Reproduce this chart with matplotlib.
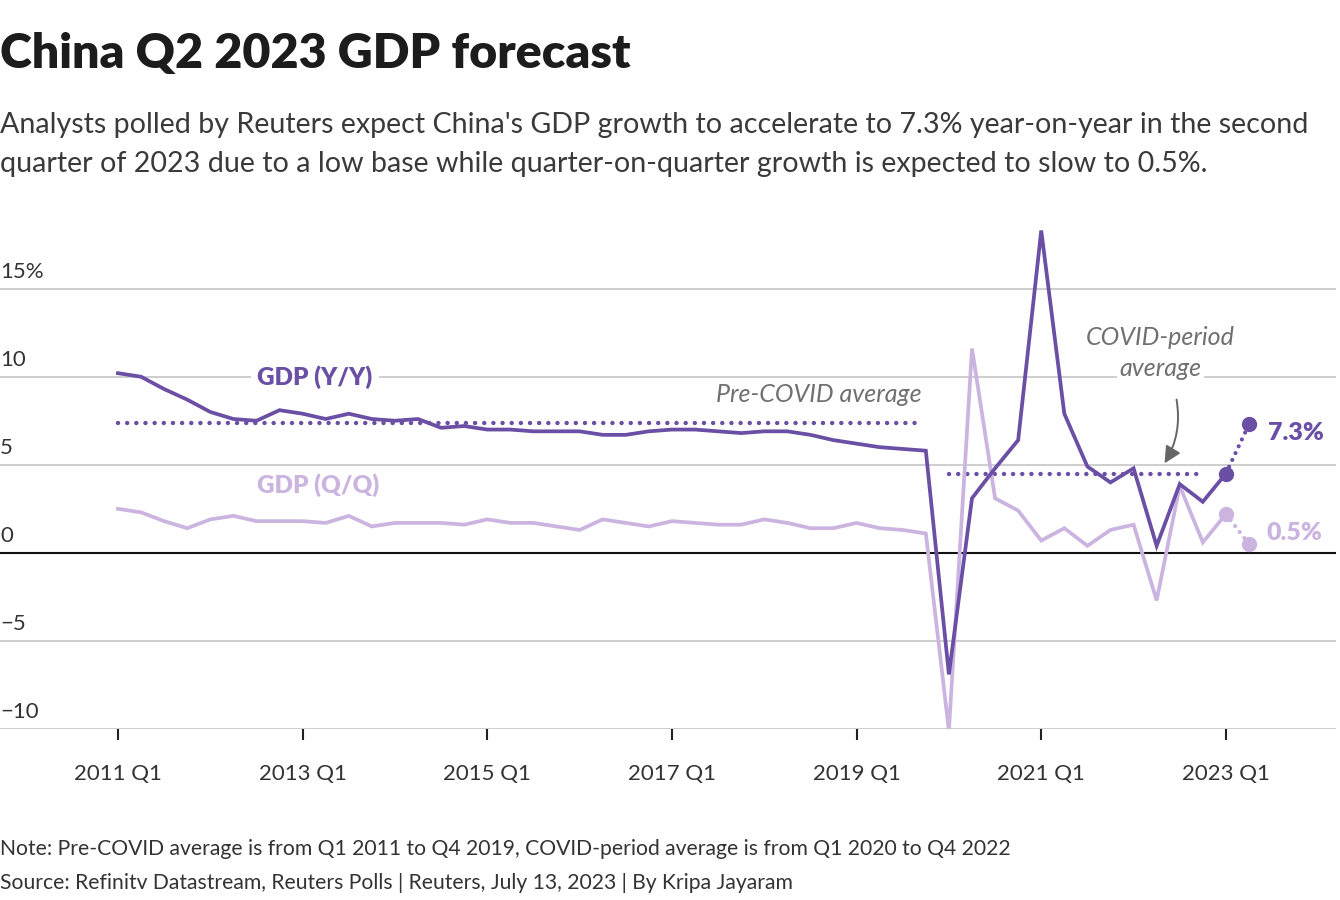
import numpy as np
import matplotlib.pyplot as plt

plt.rcParams['font.family'] = ['Lato', 'DejaVu Sans']

# quarterly data, 2011 Q1 .. 2023 Q1 (actual), plus 2023 Q2 poll forecast
years = list(range(2011, 2024))
yoy = [10.2, 10.0, 9.3, 8.7,
       8.0, 7.6, 7.5, 8.1,
       7.9, 7.6, 7.9, 7.6,
       7.5, 7.6, 7.1, 7.2,
       7.0, 7.0, 6.9, 6.9,
       6.9, 6.7, 6.7, 6.9,
       7.0, 7.0, 6.9, 6.8,
       6.9, 6.9, 6.7, 6.4,
       6.2, 6.0, 5.9, 5.8,
       -6.9, 3.1, 4.8, 6.4,
       18.3, 7.9, 4.9, 4.0,
       4.8, 0.4, 3.9, 2.9,
       4.5]
qoq = [2.5, 2.3, 1.8, 1.4,
       1.9, 2.1, 1.8, 1.8,
       1.8, 1.7, 2.1, 1.5,
       1.7, 1.7, 1.7, 1.6,
       1.9, 1.7, 1.7, 1.5,
       1.3, 1.9, 1.7, 1.5,
       1.8, 1.7, 1.6, 1.6,
       1.9, 1.7, 1.4, 1.4,
       1.7, 1.4, 1.3, 1.1,
       -10.1, 11.6, 3.1, 2.4,
       0.7, 1.4, 0.4, 1.3,
       1.6, -2.7, 3.8, 0.6,
       2.2]
yoy_fc = 7.3
qoq_fc = 0.5
pre_covid_avg = 7.4     # Q1 2011 - Q4 2019
covid_avg = 4.5         # Q1 2020 - Q4 2022

yticks = [15, 10, 5, 0, -5, -10]
ytick_labels = ['15%', '10', '5', '0', '\u22125', '\u221210']
xtick_years = [2011, 2013, 2015, 2017, 2019, 2021, 2023]

DARK = '#6a4fa5'
LIGHT = '#cbb5e0'
GRID = '#c6c6c6'
TXT = '#333333'
NOTE = '#707070'

W, H = 1340, 900
fig = plt.figure(figsize=(W / 100, H / 100), dpi=100)


def fx(px):
    return px / W


def fy(py):
    return 1 - py / H


ax = fig.add_axes([0, fy(729), fx(1336), fy(227) - fy(729)])

x = np.arange(len(yoy))
n = len(yoy)
ax.set_xlim(-5.11, 52.77)
ax.set_ylim(-10, 18.5)

for v in yticks:
    if v == 0:
        ax.axhline(0, color='#111111', lw=1.5, zorder=1)
    else:
        ax.axhline(v, color=GRID, lw=1.2, zorder=0)
for v, lab in zip(yticks, ytick_labels):
    ax.annotate(lab, xy=(0, v), xycoords=('axes fraction', 'data'),
                xytext=(0, 5), textcoords='offset points',
                ha='left', va='bottom', fontsize=16, color=TXT)

# averages
dots = dict(lw=3.2, linestyle=(0, (0.01, 2.05)), dash_capstyle='round', zorder=2)
ax.plot([0, 34.75], [pre_covid_avg] * 2, color=DARK, **dots)
ax.plot([36, 47], [covid_avg] * 2, color=DARK, **dots)

# series
ax.plot(x, qoq, color=LIGHT, lw=2.7, zorder=3, solid_joinstyle='miter')
ax.plot(x, yoy, color=DARK, lw=2.7, zorder=4, solid_joinstyle='miter')

# forecast segments
fc = dict(lw=3.0, linestyle=(0, (0.01, 1.8)), dash_capstyle='round')
ax.plot([n - 1, n], [qoq[-1], qoq_fc], color=LIGHT, zorder=3, **fc)
ax.plot([n - 1, n], [yoy[-1], yoy_fc], color=DARK, zorder=4, **fc)
ax.plot([n - 1, n], [qoq[-1], qoq_fc], 'o', color=LIGHT, ms=10, zorder=5)
ax.plot([n - 1, n], [yoy[-1], yoy_fc], 'o', color=DARK, ms=10, zorder=5)

ax.text(n + 0.83, 6.82, f'{yoy_fc}%', color=DARK, fontsize=18,
        fontweight='heavy', ha='left', va='center')
ax.text(n + 0.74, 1.14, f'{qoq_fc}%', color=LIGHT, fontsize=18,
        fontweight='heavy', ha='left', va='center')

# series labels
bb = dict(boxstyle='square,pad=0.25', fc='white', ec='none')
ax.text(8.53, 10.0, 'GDP (Y/Y)', color=DARK, fontsize=17.5, fontweight='heavy',
        ha='center', va='center', bbox=bb, zorder=1)
ax.text(8.66, 3.85, 'GDP (Q/Q)', color=LIGHT, fontsize=17.5, fontweight='heavy',
        ha='center', va='center', zorder=1)

ax.text(34.8, 8.98, 'Pre-COVID average', color=NOTE, fontsize=18,
        fontstyle='italic', ha='right', va='center')
ax.text(45.15, 12.2, 'COVID-period', color=NOTE, fontsize=18,
        fontstyle='italic', ha='center', va='center')
ax.text(45.15, 10.45, 'average', color=NOTE, fontsize=18,
        fontstyle='italic', ha='center', va='center',
        bbox=dict(boxstyle='square,pad=0.1', fc='white', ec='none'), zorder=1)
ax.annotate('', xy=(45.28, 4.95), xytext=(45.84, 8.86),
            arrowprops=dict(arrowstyle='-|>,head_length=1.0,head_width=0.5',
                            color='#666666', lw=1.4,
                            connectionstyle='arc3,rad=-0.2'))

# axes styling
for s in ax.spines.values():
    s.set_visible(False)
ax.set_yticks([])
ax.set_xticks([(y - 2011) * 4 for y in xtick_years])
ax.set_xticklabels([f'{y} Q1' for y in xtick_years], fontsize=16, color=TXT)
ax.tick_params(axis='x', length=8, width=1.5, color='#222222', pad=17)

# titles and notes
fig.text(0, fy(68), 'China Q2 2023 GDP forecast', fontsize=34.8,
         fontweight='heavy', color='#1c1c1c', va='baseline', ha='left')
fig.text(0, fy(133), "Analysts polled by Reuters expect China's GDP growth to "
         "accelerate to 7.3% year-on-year in the second",
         fontsize=20.6, color='#3a3a3a', va='baseline', ha='left')
fig.text(0, fy(172), 'quarter of 2023 due to a low base while quarter-on-quarter '
         'growth is expected to slow to 0.5%.',
         fontsize=20.6, color='#3a3a3a', va='baseline', ha='left')
fig.text(0, fy(855), 'Note: Pre-COVID average is from Q1 2011 to Q4 2019, '
         'COVID-period average is from Q1 2020 to Q4 2022',
         fontsize=15.2, color=TXT, va='baseline', ha='left')
fig.text(0, fy(889), 'Source: Refinitv Datastream, Reuters Polls | Reuters, '
         'July 13, 2023 | By Kripa Jayaram',
         fontsize=15.2, color=TXT, va='baseline', ha='left')

fig.savefig('out.png', dpi=100)
